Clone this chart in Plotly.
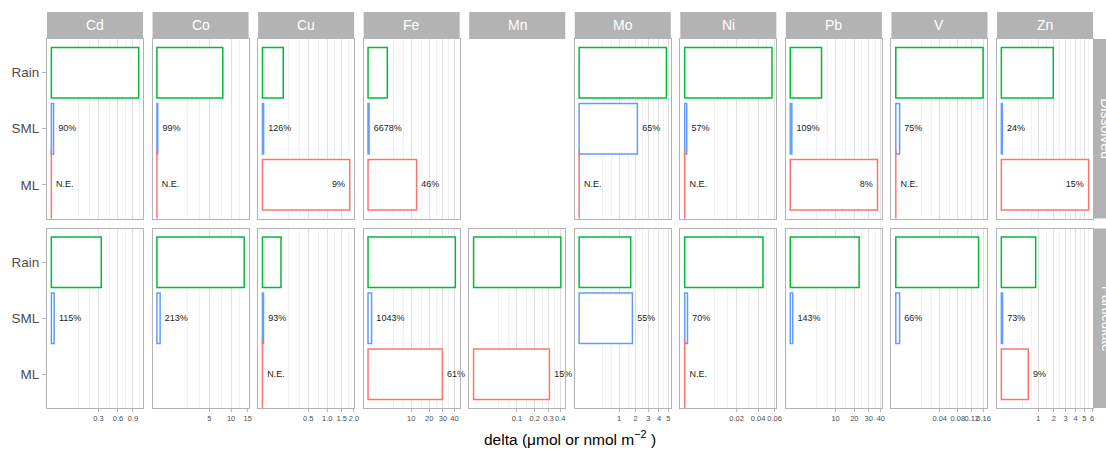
import numpy as np
import plotly.graph_objects as go

# ---- data -------------------------------------------------------------
metals = ["Cd", "Co", "Cu", "Fe", "Mn", "Mo", "Ni", "Pb", "V", "Zn"]
sources = ["Rain", "SML", "ML"]
phases = ["Dissolved", "Particulate"]

# delta (µmol or nmol m-2); None = no bar, 0 = not estimated (N.E.)
rain_dissolved = [1.03, 7.89, 0.103, 1.99, None, 4.78, 0.0566, 4.77, 0.158, 1.96]
sml_dissolved = [0.00066, 0.0012, 0.0003, 0.006, None, 2.13, 0.00003, 0.012, 0.0003, 0.0007]
ml_dissolved = [0, 0, 1.82, 12.6, None, 0, 0, 37.1, 0, 5.54]

rain_particulate = [0.337, 13.85, 0.082, 40.7, 0.4065, 1.67, 0.0455, 23.1, 0.142, 0.855]
sml_particulate = [0.00106, 0.0186, 0.00024, 0.069, None, 1.78, 0.000058, 0.03, 0.0003, 0.001]
ml_particulate = [None, None, 0, 29.5, 0.307, None, 0, None, None, 0.526]

# percentage labels next to the SML / ML bars
sml_dissolved_lab = ["90%", "99%", "126%", "6678%", None, "65%", "57%", "109%", "75%", "24%"]
ml_dissolved_lab = ["N.E.", "N.E.", "9%", "46%", None, "N.E.", "N.E.", "8%", "N.E.", "15%"]
sml_particulate_lab = ["115%", "213%", "93%", "1043%", None, "55%", "70%", "143%", "66%", "73%"]
ml_particulate_lab = [None, None, "N.E.", "61%", "15%", None, "N.E.", None, None, "9%"]

# axis breaks per metal (square-root scale)
x_breaks = {
    "Cd": [0.3, 0.6, 0.9],
    "Co": [5, 10, 15],
    "Cu": [0.5, 1.0, 1.5, 2.0],
    "Fe": [10, 20, 30, 40],
    "Mn": [0.1, 0.2, 0.3, 0.4],
    "Mo": [1, 2, 3, 4, 5],
    "Ni": [0.02, 0.04, 0.06],
    "Pb": [10, 20, 30, 40],
    "V": [0.04, 0.08, 0.12, 0.16],
    "Zn": [1, 2, 3, 4, 5, 6],
}
x_break_labels = {
    "Cd": ["0.3", "0.6", "0.9"],
    "Co": ["5", "10", "15"],
    "Cu": ["0.5", "1.0", "1.5", "2.0"],
    "Fe": ["10", "20", "30", "40"],
    "Mn": ["0.1", "0.2", "0.3", "0.4"],
    "Mo": ["1", "2", "3", "4", "5"],
    "Ni": ["0.02", "0.04", "0.06"],
    "Pb": ["10", "20", "30", "40"],
    "V": ["0.04", "0.08", "0.12", "0.16"],
    "Zn": ["1", "2", "3", "4", "5", "6"],
}

values = {
    "Dissolved": {"Rain": rain_dissolved, "SML": sml_dissolved, "ML": ml_dissolved},
    "Particulate": {"Rain": rain_particulate, "SML": sml_particulate, "ML": ml_particulate},
}
labels = {
    "Dissolved": {"SML": sml_dissolved_lab, "ML": ml_dissolved_lab},
    "Particulate": {"SML": sml_particulate_lab, "ML": ml_particulate_lab},
}

# ---- style ------------------------------------------------------------
colors = {"Rain": "#00BA38", "SML": "#619CFF", "ML": "#F8766D"}
FONT = "Liberation Sans, Arial, sans-serif"
GREY70 = "#B3B3B3"
W, H = 1106, 449
ML_, MR_, MT_, MB_ = 47, 13, 39, 41
PW, PH = W - ML_ - MR_, H - MT_ - MB_
PANEL_W = 96
GAP_X = (PW - len(metals) * PANEL_W) / (len(metals) - 1)
GAP_Y = 10
ROW_H = (PH - GAP_Y) / 2
STRIP_H = 27

fig = go.Figure()
layout = {}
shapes = []
annotations = []


def minor_breaks(br):
    step = br[1] - br[0]
    out = [br[0] / 3, 2 * br[0] / 3]
    out += [(a + b) / 2 for a, b in zip(br[:-1], br[1:])]
    out.append(br[-1] + step / 2)
    return out


for r, phase in enumerate(phases):
    if r == 0:
        ydom = [(ROW_H + GAP_Y) / PH, 1.0]
    else:
        ydom = [0.0, ROW_H / PH]
    for c, metal in enumerate(metals):
        n = r * len(metals) + c + 1
        xa = "x" if n == 1 else f"x{n}"
        ya = "y" if n == 1 else f"y{n}"
        x0 = c * (PANEL_W + GAP_X) / PW
        xdom = [x0, x0 + PANEL_W / PW]

        col_vals = [v for p in phases for s in sources
                    for v in [values[p][s][c]] if v is not None]
        m = np.sqrt(max(col_vals))

        for s in sources:
            v = values[phase][s][c]
            if v is None:
                continue
            if v > 0:
                fig.add_trace(go.Bar(
                    x=[np.sqrt(v)], y=[s], orientation="h", width=0.9,
                    marker=dict(color="white", line=dict(color=colors[s], width=1.5)),
                    xaxis=xa, yaxis=ya, showlegend=False, hoverinfo="skip"))
            else:
                # zero-width bar: drawn as its outline only
                fig.add_trace(go.Scatter(
                    x=[0], y=[s], mode="markers",
                    marker=dict(symbol="line-ns", size=50,
                                line=dict(color=colors[s], width=1.5)),
                    xaxis=xa, yaxis=ya, showlegend=False, hoverinfo="skip"))
            if s in labels[phase]:
                lab = labels[phase][s][c]
                if lab:
                    inside = v > 0 and np.isclose(v, max(col_vals))
                    fig.add_trace(go.Scatter(
                        x=[np.sqrt(v)], y=[s], mode="markers+text", text=[lab],
                        textposition="middle left" if inside else "middle right",
                        marker=dict(size=6, color="rgba(0,0,0,0)"),
                        textfont=dict(size=9, color="#1a1a1a", family=FONT),
                        cliponaxis=False,
                        xaxis=xa, yaxis=ya, showlegend=False, hoverinfo="skip"))

        br = x_breaks[metal]
        bottom = (r == len(phases) - 1)
        layout["xaxis" if n == 1 else f"xaxis{n}"] = dict(
            domain=xdom, anchor=ya, range=[-0.05 * m, 1.05 * m],
            tickmode="array", tickvals=list(np.sqrt(br)), ticktext=x_break_labels[metal],
            tickangle=0,
            showticklabels=bottom, ticks="outside" if bottom else "",
            ticklen=3, tickcolor=GREY70, tickwidth=1,
            tickfont=dict(size=7.5, color="#4D4D4D", family=FONT),
            showgrid=True, gridcolor="#E0E0E0", gridwidth=1,
            minor=dict(tickmode="array", tickvals=list(np.sqrt(minor_breaks(br))),
                       showgrid=True, gridcolor="#F1F1F1", gridwidth=1),
            showline=True, mirror=True, linecolor=GREY70, linewidth=1,
            zeroline=False, fixedrange=True, automargin=False)
        first = (c == 0)
        layout["yaxis" if n == 1 else f"yaxis{n}"] = dict(
            domain=ydom, anchor=xa, type="category",
            categoryorder="array", categoryarray=["ML", "SML", "Rain"],
            range=[-0.6, 2.6], showgrid=False, zeroline=False,
            showticklabels=first, ticks="outside" if first else "",
            ticklen=4, tickcolor=GREY70, tickwidth=1,
            tickfont=dict(size=13.5, color="#4D4D4D", family=FONT),
            showline=True, mirror=True, linecolor=GREY70, linewidth=1,
            fixedrange=True, automargin=False)

        # column strip on top
        if r == 0:
            shapes.append(dict(type="rect", xref="paper", yref="paper",
                               x0=xdom[0], x1=xdom[1], y0=1, y1=1 + STRIP_H / PH,
                               fillcolor=GREY70, line=dict(width=0), layer="above"))
            annotations.append(dict(x=(xdom[0] + xdom[1]) / 2, y=1 + STRIP_H / PH / 2,
                                    xref="paper", yref="paper", text=metal,
                                    showarrow=False, xanchor="center", yanchor="middle",
                                    font=dict(size=14, color="white", family=FONT)))

    # row strip on the right (extends past the page edge)
    shapes.append(dict(type="rect", xref="paper", yref="paper",
                       x0=1, x1=1 + STRIP_H / PW, y0=ydom[0], y1=ydom[1],
                       fillcolor=GREY70, line=dict(width=0), layer="above"))
    annotations.append(dict(x=1 + (STRIP_H / 2) / PW, y=(ydom[0] + ydom[1]) / 2,
                            xref="paper", yref="paper", text=phase, textangle=90,
                            showarrow=False, xanchor="center", yanchor="middle",
                            font=dict(size=14, color="white", family=FONT)))

annotations.append(dict(x=0.5, y=-30 / PH, xref="paper", yref="paper",
                        text="delta (\u03bcmol or nmol m<sup>\u22122</sup> )",
                        showarrow=False, xanchor="center", yanchor="middle",
                        font=dict(size=15.5, color="black", family=FONT)))

fig.update_layout(
    width=W, height=H,
    margin=dict(l=ML_, r=MR_, t=MT_, b=MB_, pad=0, autoexpand=False),
    paper_bgcolor="white", plot_bgcolor="white",
    barmode="overlay", showlegend=False,
    shapes=shapes, annotations=annotations,
    **layout)

fig.write_html("out.html")
